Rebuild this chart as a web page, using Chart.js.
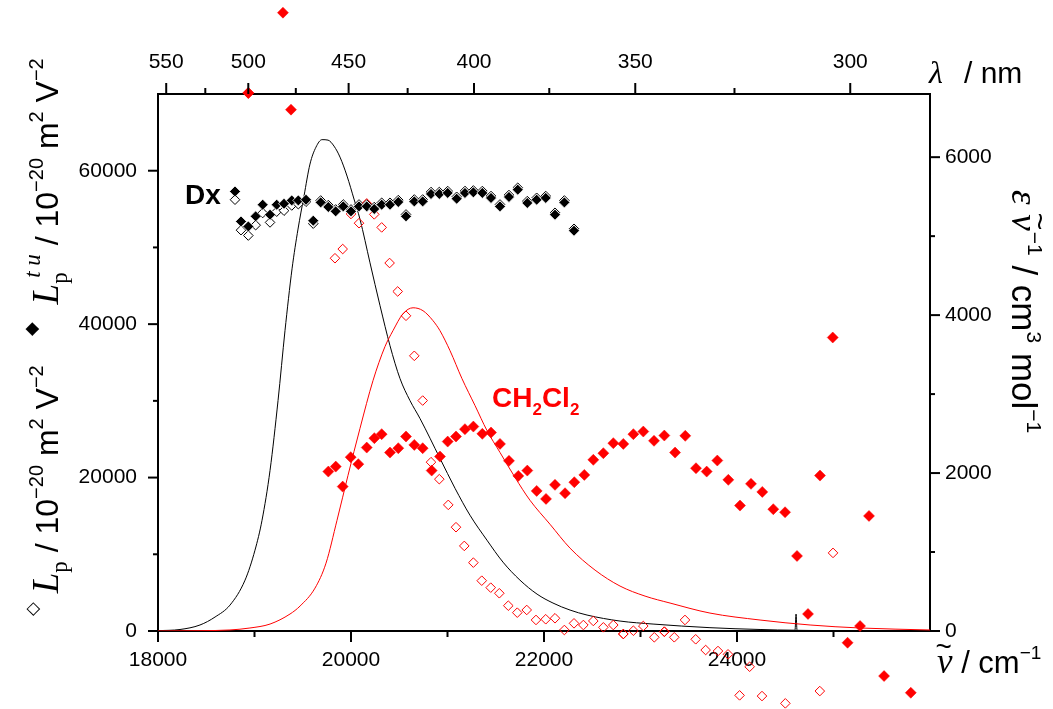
<!DOCTYPE html>
<html>
<head>
<meta charset="utf-8">
<script src="https://cdn.jsdelivr.net/npm/chart.js@4.4.0/dist/chart.umd.min.js"></script>
<style>html,body{margin:0;padding:0;background:#fff}canvas{display:block}</style>
</head>
<body>
<canvas id="myChart" width="1053" height="709"></canvas>
<script>
// wavenumbers in cm-1, Lp values in 1e-20 m2 V-2, eps/nu in cm3 mol-1
const dxNu = [18798,18860,18936,19012,19085,19161,19230,19306,19386,19454,19534,19609,19686,19765,19841,19920,20000,20083,20163,20241,20318,20404,20490,20570,20656,20743,20829,20915,21002,21095,21181,21268,21361,21451,21544,21637,21728,21827,21924,22018,22114,22211,22311];
const dxTu = [57300,53390,52740,54050,55570,54270,55570,55700,56130,56130,56220,53490,55870,55270,54700,55350,54700,55350,55350,55010,55570,55570,55920,54050,56000,56000,56970,56970,57100,56350,57100,57180,57100,56450,55350,56580,57530,55790,56220,56450,54270,55870,52180];
const dxLp = [56220,52250,51550,52900,54490,53260,54660,54790,55470,55640,55960,53100,56120,55520,54950,55600,54950,55600,55600,55260,55820,55820,56170,54300,56250,56250,57220,57220,57350,56600,57350,57430,57350,56700,55600,56830,57780,56040,56470,56700,54520,56120,52430];

const ch2TuNu = [18936,19295,19378,19765,19842,19914,19997,20076,20163,20242,20318,20404,20490,20570,20656,20743,20836,20922,21002,21088,21181,21268,21361,21451,21544,21637,21734,21827,21924,22021,22114,22218,22314,22418,22511,22615,22718,22822,22926,23029,23140,23247,23358,23464,23575,23686,23796,23910,24031,24145,24262,24376,24498,24622,24736,24860,24992,25146,25275,25368,25524,25801];
const ch2Tu = [70140,80600,67960,20780,21430,18820,22660,21750,23910,25140,25660,23260,23830,25350,24260,23830,20910,22740,24690,25350,26310,26650,25700,25870,24390,22180,20220,20910,18260,17220,19050,17960,19400,20350,22310,23180,24490,24390,25660,26000,24790,25480,23260,25440,21220,20780,22220,19700,16350,19180,18130,15880,15480,9780,2220,20260,38260,-1530,650,15000,-5870,-8050];

const ch2LpNu = [19834,19914,20000,20083,20163,20241,20318,20400,20484,20570,20656,20743,20829,20915,21008,21088,21174,21268,21355,21448,21537,21630,21723,21821,21917,22018,22114,22211,22311,22408,22511,22615,22718,22822,22926,23029,23143,23247,23350,23461,23572,23675,23803,23907,24027,24131,24259,24501,24858,24995];
const ch2Lp = [48590,49790,54360,53160,55740,54310,52610,47970,44260,41090,35870,30040,22010,19790,16440,13530,11090,8910,6560,5650,4920,3300,2390,2740,1440,1530,1660,130,1000,780,1310,480,780,-390,40,650,-820,-90,-820,1440,-1080,-2480,-2610,-3040,-8390,-4660,-8480,-9430,-7830,10180];

const dxEpsNu = [18000,18228,18435,18591,18746,18902,19005,19078,19161,19244,19316,19389,19451,19513,19575,19637,19700,19762,19824,19886,19959,20031,20093,20197,20301,20404,20508,20611,20715,20922,21078,21233,21409,21575,21751,21928,22093,22270,22446,22788,23130,23720,24239,24601,24612,24622,25171,26000];
const dxEps = [4,19,76,177,328,644,1023,1402,2034,2918,3803,4586,5090,5508,5913,6127,6222,6216,6140,6001,5761,5470,5215,4662,4119,3613,3196,2918,2691,2186,1807,1466,1150,872,644,467,354,265,202,126,88,42,19,10,215,9,4,0];
const ch2EpsNu = [18000,18435,18746,18953,19161,19368,19472,19627,19741,19855,19969,20093,20228,20352,20435,20539,20643,20746,20850,20922,21026,21150,21285,21409,21544,21699,21855,22062,22270,22529,22788,23047,23306,23720,24239,24757,25275,26000];
const ch2Eps = [0,4,13,38,88,215,316,543,859,1402,1971,2565,3171,3601,3803,4018,4093,4056,3929,3803,3550,3196,2855,2539,2261,1946,1655,1352,1049,771,569,442,354,227,139,76,38,13];

// tick values
const xMajor = [18000,20000,22000,24000];
const xMinor = [19000,21000,23000,25000];
const yMajor = [0,20000,40000,60000];
const yMinor = [10000,30000,50000];
const y2Major = [0,2000,4000,6000];
const y2Minor = [1000,3000,5000];
const nmMajor = [550,500,450,400,350,300];
const nmMinor = [525,475,425,375,325];

const SANS = '"Liberation Sans", Arial, sans-serif';
const SERIF = '"Liberation Serif", "Times New Roman", serif';
const RED = '#ff0000';

const pts = (xs, ys) => xs.map((x, i) => ({x: x, y: ys[i]}));

function drawParts(ctx, parts, x0, y0, rot) {
  ctx.save();
  ctx.translate(x0, y0);
  ctx.rotate(rot);
  ctx.textAlign = 'left';
  ctx.textBaseline = 'alphabetic';
  let x = 0;
  for (const p of parts) {
    ctx.font = p.f;
    ctx.fillStyle = p.c || '#000';
    ctx.fillText(p.t, x + (p.dx || 0), p.dy || 0);
    if (p.adv !== false) x += ctx.measureText(p.t).width + (p.dx || 0);
  }
  ctx.restore();
}

const decor = {
  id: 'decor',
  afterDatasetsDraw(chart) {
    // points lying outside the frame are still shown in the original
    const a = chart.chartArea;
    const big = {left: -1e4, top: -1e4, right: 1e5, bottom: 1e5};
    chart.data.datasets.forEach((ds, i) => {
      if (ds.showLine) return;
      chart.getDatasetMeta(i).data.forEach(el => {
        if (el.x < a.left || el.x > a.right || el.y < a.top || el.y > a.bottom) el.draw(chart.ctx, big);
      });
    });
  },
  afterDraw(chart) {
    const ctx = chart.ctx, a = chart.chartArea, s = chart.scales;
    ctx.save();
    ctx.strokeStyle = '#000';
    ctx.lineWidth = 2;
    const seg = (x1, y1, x2, y2) => { ctx.beginPath(); ctx.moveTo(x1, y1); ctx.lineTo(x2, y2); ctx.stroke(); };
    xMajor.forEach(v => { const p = s.x.getPixelForValue(v); seg(p, a.bottom, p, a.bottom + 11); });
    xMinor.forEach(v => { const p = s.x.getPixelForValue(v); seg(p, a.bottom, p, a.bottom + 6); });
    nmMajor.forEach(v => { const p = s.xTop.getPixelForValue(1e7 / v); seg(p, a.top, p, a.top - 11); });
    nmMinor.forEach(v => { const p = s.xTop.getPixelForValue(1e7 / v); seg(p, a.top, p, a.top - 6); });
    yMajor.forEach(v => { const p = s.y.getPixelForValue(v); seg(a.left, p, a.left - 10, p); });
    yMinor.forEach(v => { const p = s.y.getPixelForValue(v); seg(a.left, p, a.left - 5, p); });
    y2Major.forEach(v => { const p = s.y2.getPixelForValue(v); seg(a.right, p, a.right + 10, p); });
    y2Minor.forEach(v => { const p = s.y2.getPixelForValue(v); seg(a.right, p, a.right + 5, p); });
    ctx.restore();

    const big = '32px ' + SANS, sup = '20px ' + SANS;
    // left title, two parts
    drawParts(ctx, [
      {t: '\u25C7', f: '18px "DejaVu Sans"', dy: -20},
      {t: ' ', f: big},
      {t: 'L', f: 'italic 37px ' + SERIF},
      {t: 'p', f: '23px ' + SERIF, dy: 9},
      {t: ' / 10', f: big},
      {t: '\u221220', f: sup, dy: -15},
      {t: ' m', f: big},
      {t: '2', f: sup, dy: -15},
      {t: ' V', f: big},
      {t: '\u22122', f: sup, dy: -15}
    ], 58, 616, -Math.PI / 2);
    drawParts(ctx, [
      {t: '\u25C6', f: '18px "DejaVu Sans"', dy: -21},
      {t: '  ', f: big},
      {t: 'L', f: 'italic 37px ' + SERIF},
      {t: 'p', f: '23px ' + SERIF, dy: 9, adv: false},
      {t: 't u', f: 'italic 23px ' + SERIF, dy: -18, dx: 6},
      {t: ' / 10', f: big},
      {t: '\u221220', f: sup, dy: -15},
      {t: ' m', f: big},
      {t: '2', f: sup, dy: -15},
      {t: ' V', f: big},
      {t: '\u22122', f: sup, dy: -15}
    ], 58, 336, -Math.PI / 2);
    // right title
    const rbig = '35px ' + SANS, rsup = '21px ' + SANS;
    drawParts(ctx, [
      {t: '\u03B5', f: 'italic 37px ' + SERIF},
      {t: ' ', f: rbig},
      {t: '\u03BD', f: 'italic 37px ' + SERIF},
      {t: '~', f: '30px ' + SANS, dx: -18, dy: -18, adv: false},
      {t: '\u22121', f: rsup, dy: -16, dx: 1},
      {t: ' / cm', f: rbig},
      {t: '3', f: rsup, dy: -15},
      {t: ' mol', f: rbig},
      {t: '\u22121', f: rsup, dy: -15}
    ], 1012, 190, Math.PI / 2);
    // bottom and top titles
    drawParts(ctx, [
      {t: '\u03BD', f: 'italic 35px ' + SERIF},
      {t: '~', f: '28px ' + SANS, dx: -17, dy: -17, adv: false},
      {t: ' / cm', f: '31px ' + SANS},
      {t: '\u22121', f: '19px ' + SANS, dy: -14}
    ], 937, 673, 0);
    drawParts(ctx, [{t: '\u03BB', f: 'italic 32px ' + SERIF}], 929, 83, 0);
    drawParts(ctx, [{t: '/ nm', f: '30px ' + SANS}], 964, 83, 0);
    // series labels
    drawParts(ctx, [{t: 'Dx', f: 'bold 28px ' + SANS}], 185, 204, 0);
    drawParts(ctx, [
      {t: 'CH', f: 'bold 28px ' + SANS, c: RED},
      {t: '2', f: 'bold 17px ' + SANS, c: RED, dy: 8},
      {t: 'Cl', f: 'bold 28px ' + SANS, c: RED},
      {t: '2', f: 'bold 17px ' + SANS, c: RED, dy: 8}
    ], 492, 407, 0);
  }
};

const tickFont = {family: SANS, size: 21};
const noGrid = {display: false, drawTicks: false};
const frame = {display: true, color: '#000', width: 2};

const ctx = document.getElementById('myChart').getContext('2d');
const myChart = new Chart(ctx, {
  type: 'scatter',
  data: {
    datasets: [{
        label: 'Dx Lp tu',
        data: pts(dxNu, dxTu),
        pointStyle: 'rectRot', pointRadius: 5.5,
        backgroundColor: '#000', borderColor: '#fff', borderWidth: 0.8,
        clip: false, order: 1
      }, {
        label: 'CH2Cl2 Lp tu',
        data: pts(ch2TuNu, ch2Tu),
        pointStyle: 'rectRot', pointRadius: 5.5,
        backgroundColor: RED, borderColor: RED, borderWidth: 0.5,
        clip: false, order: 0
      }, {
        label: 'Dx Lp',
        data: pts(dxNu, dxLp),
        pointStyle: 'rectRot', pointRadius: 4.8,
        backgroundColor: '#fff', borderColor: '#000', borderWidth: 1,
        clip: false, order: 3
      }, {
        label: 'CH2Cl2 Lp',
        data: pts(ch2LpNu, ch2Lp),
        pointStyle: 'rectRot', pointRadius: 4.8,
        backgroundColor: 'rgba(0,0,0,0)', borderColor: RED, borderWidth: 1,
        clip: false, order: 2
      }, {
        label: 'Dx eps',
        data: pts(dxEpsNu, dxEps),
        yAxisID: 'y2', showLine: true, pointRadius: 0,
        borderColor: '#000', borderWidth: 1, cubicInterpolationMode: 'monotone',
        order: 5
      }, {
        label: 'CH2Cl2 eps',
        data: pts(ch2EpsNu, ch2Eps),
        yAxisID: 'y2', showLine: true, pointRadius: 0,
        borderColor: RED, borderWidth: 1, cubicInterpolationMode: 'monotone',
        order: 4
      }
    ]
  },
  options: {
    responsive: false,
    animation: false,
    devicePixelRatio: 1,
    layout: {padding: 0},
    plugins: {legend: {display: false}, tooltip: {enabled: false}},
    scales: {
      x: {
        type: 'linear', position: 'bottom', min: 18000, max: 26000,
        afterFit: sc => { sc.height = 78; },
        afterBuildTicks: sc => { sc.ticks = xMajor.map(v => ({value: v})); },
        ticks: {font: tickFont, color: '#000', padding: 17, maxRotation: 0, autoSkip: false, callback: v => String(v)},
        grid: noGrid, border: frame
      },
      xTop: {
        type: 'linear', position: 'top', min: 18000, max: 35100,
        afterFit: sc => { sc.height = 94; },
        afterBuildTicks: sc => { sc.ticks = nmMajor.map(v => ({value: 1e7 / v})); },
        ticks: {font: tickFont, color: '#000', padding: 19, maxRotation: 0, autoSkip: false, callback: v => String(Math.round(1e7 / v))},
        grid: noGrid, border: frame
      },
      y: {
        type: 'linear', position: 'left', min: 0, max: 70000,
        afterFit: sc => { sc.width = 158; },
        afterBuildTicks: sc => { sc.ticks = yMajor.map(v => ({value: v})); },
        ticks: {font: tickFont, color: '#000', padding: 21, autoSkip: false, callback: v => String(v)},
        grid: noGrid, border: frame
      },
      y2: {
        type: 'linear', position: 'right', min: 0, max: 6800,
        afterFit: sc => { sc.width = 123; },
        afterBuildTicks: sc => { sc.ticks = y2Major.map(v => ({value: v})); },
        ticks: {font: tickFont, color: '#000', padding: 15, autoSkip: false, callback: v => String(v)},
        grid: noGrid, border: frame
      }
    }
  },
  plugins: [decor]
});
</script>
</body>
</html>
